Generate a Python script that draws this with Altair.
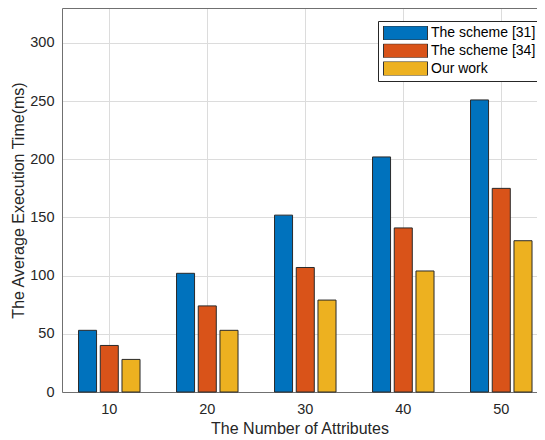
import altair as alt
import pandas as pd

attributes = ["10", "20", "30", "40", "50"]
series_names = ["The scheme [31]", "The scheme [34]", "Our work"]
scheme31 = [53, 102, 152, 202, 251]
scheme34 = [40, 74, 107, 141, 175]
our_work = [28, 53, 79, 104, 130]
colors = ["#0072BD", "#D95319", "#EDB120"]
y_ticks = [0, 50, 100, 150, 200, 250, 300]

rows = []
for name, vals in zip(series_names, [scheme31, scheme34, our_work]):
    for a, v in zip(attributes, vals):
        rows.append({"attr": a, "series": name, "time": v})
df = pd.DataFrame(rows)

font = "Liberation Sans"
axis_gray = "#707070"

legend = alt.Legend(
    title=None, orient="none", legendX=316, legendY=13,
    symbolType="M-1,-0.32L1,-0.32L1,0.32L-1,0.32Z", symbolSize=1936,
    symbolStrokeColor="#333333", symbolStrokeWidth=1, symbolOpacity=1,
    labelFont=font, labelFontSize=14, labelColor="#000000", labelOffset=3,
    padding=5, strokeColor="#262626", fillColor="#ffffff", rowPadding=3.8,
    clipHeight=14, cornerRadius=0,
)

x_scale = alt.Scale(paddingInner=0.337, paddingOuter=0.092, align=0.82)
y_scale = alt.Scale(domain=[0, 330], nice=False)
xoff = alt.XOffset("series:N", sort=series_names,
                   scale=alt.Scale(paddingInner=0.17, paddingOuter=0.08))
col = alt.Color("series:N", sort=series_names,
                scale=alt.Scale(domain=series_names, range=colors), legend=legend)

bars = alt.Chart(df).mark_bar(stroke="#2a2a2a", strokeWidth=1).encode(
    x=alt.X("attr:N", sort=attributes, title="The Number of Attributes", scale=x_scale,
            axis=alt.Axis(labelAngle=0, ticks=False, labelPadding=10, titlePadding=5,
                          grid=True, bandPosition=0.5, domain=True, domainColor=axis_gray)),
    xOffset=xoff,
    y=alt.Y("time:Q", scale=y_scale, title="The Average Execution Time(ms)",
            axis=alt.Axis(values=y_ticks, ticks=False, labelPadding=8, titlePadding=3,
                          domain=True, domainColor=axis_gray)),
    color=col,
)

top_axis = alt.Chart(df).mark_bar(opacity=0).encode(
    x=alt.X("attr:N", sort=attributes, scale=x_scale,
            axis=alt.Axis(orient="top", labels=False, ticks=False, grid=False, title=None,
                          domain=True, domainColor=axis_gray)),
    xOffset=xoff,
    y=alt.Y("time:Q", scale=y_scale, axis=None),
    color=col,
)

chart = alt.layer(bars, top_axis).resolve_axis(
    x="independent", y="independent"
).properties(
    width=475, height=384,
    autosize=alt.AutoSizeParams(type="none"),
    padding={"left": 54, "top": 0, "right": 0, "bottom": 48},
).configure_view(
    stroke=None,
).configure_axis(
    labelFont=font, labelFontSize=14.5, labelColor="#262626",
    titleFont=font, titleFontSize=16, titleColor="#262626", titleFontWeight="normal",
    gridColor="#dcdcdc", gridWidth=1,
)

chart.save("out.html", embed_options={"renderer": "svg", "actions": False})
